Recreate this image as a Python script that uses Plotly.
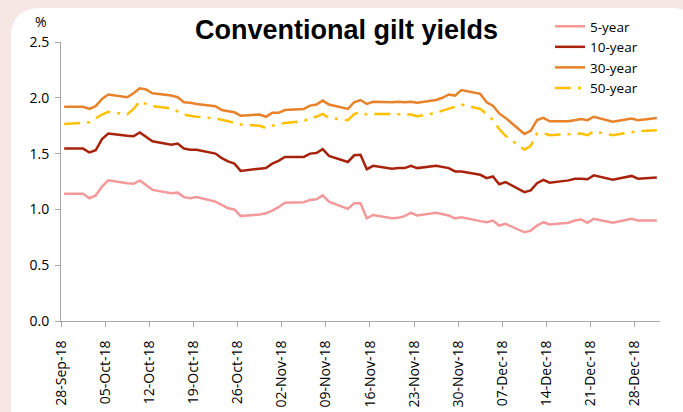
import pandas as pd
import plotly.graph_objects as go

# ---- data ----
dates = [d for d in pd.bdate_range("2018-09-28", "2018-12-31")
         if d.strftime("%m-%d") not in ("12-25", "12-26")]

y_5 = [1.14, 1.14, 1.10, 1.125, 1.205, 1.26, 1.235, 1.23, 1.26, 1.22, 1.175,
       1.145, 1.15, 1.11, 1.10, 1.11, 1.07, 1.04, 1.01, 1.00, 0.94,
       0.955, 0.965, 0.99, 1.02, 1.06, 1.065, 1.085, 1.09, 1.125, 1.07,
       1.005, 1.055, 1.055, 0.92, 0.95, 0.92, 0.925, 0.94, 0.97, 0.945,
       0.97, 0.96, 0.945, 0.92, 0.93, 0.895, 0.885, 0.90, 0.855, 0.87,
       0.795, 0.81, 0.855, 0.885, 0.865, 0.88, 0.90, 0.91, 0.88, 0.915,
       0.88, 0.915, 0.90, 0.90]
y_10 = [1.545, 1.545, 1.51, 1.53, 1.63, 1.68, 1.66, 1.655, 1.69, 1.65, 1.61,
        1.58, 1.59, 1.545, 1.535, 1.535, 1.50, 1.46, 1.43, 1.41, 1.345,
        1.365, 1.37, 1.41, 1.435, 1.47, 1.47, 1.50, 1.505, 1.54, 1.48,
        1.425, 1.485, 1.49, 1.36, 1.39, 1.365, 1.37, 1.37, 1.39, 1.37,
        1.39, 1.38, 1.37, 1.34, 1.34, 1.31, 1.28, 1.295, 1.225, 1.245,
        1.155, 1.17, 1.235, 1.265, 1.24, 1.26, 1.275, 1.275, 1.27, 1.305,
        1.265, 1.30, 1.275, 1.285]
y_30 = [1.92, 1.92, 1.90, 1.925, 1.99, 2.03, 2.005, 2.04, 2.085, 2.075, 2.04,
        2.02, 2.005, 1.96, 1.955, 1.945, 1.925, 1.89, 1.88, 1.87, 1.84,
        1.85, 1.83, 1.865, 1.865, 1.89, 1.90, 1.93, 1.94, 1.975, 1.94,
        1.90, 1.96, 1.98, 1.945, 1.965, 1.96, 1.965, 1.96, 1.965, 1.955,
        1.98, 2.00, 2.03, 2.02, 2.07, 2.035, 1.96, 1.93, 1.86, 1.82,
        1.675, 1.705, 1.80, 1.82, 1.79, 1.79, 1.80, 1.81, 1.80, 1.83,
        1.785, 1.815, 1.80, 1.82]
y_50 = [1.765, 1.775, 1.78, 1.815, 1.85, 1.875, 1.85, 1.90, 1.97, 1.945, 1.925,
        1.905, 1.88, 1.85, 1.84, 1.83, 1.815, 1.805, 1.79, 1.775, 1.76,
        1.75, 1.73, 1.75, 1.765, 1.775, 1.79, 1.82, 1.83, 1.855, 1.82,
        1.80, 1.855, 1.875, 1.85, 1.855, 1.855, 1.855, 1.855, 1.85, 1.835,
        1.865, 1.885, 1.90, 1.92, 1.94, 1.90, 1.855, 1.80, 1.72, 1.66,
        1.535, 1.57, 1.68, 1.685, 1.665, 1.67, 1.675, 1.68, 1.665, 1.70,
        1.665, 1.695, 1.70, 1.71]

series_names = ["5-year", "10-year", "30-year", "50-year"]
tick_dates = pd.date_range("2018-09-28", "2018-12-28", freq="7D")

# ---- layout geometry ----
W, H = 683, 412
ML, MR, MT, MB = 61, 23, 42, 91
PW, PH = W - ML - MR, H - MT - MB
PINK = "#F6E7E5"


def px_x(px):
    return (px - ML) / PW


def px_y(py):
    return (H - MB - py) / PH


x_mid = [d + pd.Timedelta(hours=12) for d in dates]

styles = [
    dict(color="#F4999A", width=2.5),
    dict(color="#A8230C", width=2.5),
    dict(color="#E8822A", width=2.5),
    dict(color="#FFC000", width=2.5, dash="16px,7px,3px,7px"),
]

fig = go.Figure()
for name, ys, st in zip(series_names, [y_5, y_10, y_30, y_50], styles):
    fig.add_trace(go.Scatter(x=x_mid, y=ys, mode="lines", name=name,
                             line=st, hoverinfo="skip"))

# white rounded panel on pink background
x0, x1 = px_x(11), px_x(700)
y0, y1 = px_y(8), px_y(440)
rx, ry = 30 / PW, 30 / PH
path = (f"M {x0+rx},{y0} L {x1-rx},{y0} Q {x1},{y0} {x1},{y0-ry} "
        f"L {x1},{y1+ry} Q {x1},{y1} {x1-rx},{y1} L {x0+rx},{y1} "
        f"Q {x0},{y1} {x0},{y1+ry} L {x0},{y0-ry} Q {x0},{y0} {x0+rx},{y0} Z")

fig.update_layout(
    width=W, height=H,
    margin=dict(l=ML, r=MR, t=MT, b=MB, autoexpand=False),
    paper_bgcolor=PINK,
    plot_bgcolor="rgba(0,0,0,0)",
    font=dict(family="Open Sans, sans-serif", color="#000000"),
    shapes=[dict(type="path", path=path, xref="paper", yref="paper",
                 fillcolor="#FFFFFF", line=dict(width=0), layer="below")],
    showlegend=True,
    legend=dict(x=px_x(550), y=px_y(11), xanchor="left", yanchor="top",
                bgcolor="rgba(0,0,0,0)", font=dict(size=13.5),
                tracegroupgap=0, itemwidth=30),
    annotations=[
        dict(text="<b>Conventional gilt yields</b>", x=px_x(346), y=px_y(30),
             xref="paper", yref="paper", xanchor="center", yanchor="middle",
             showarrow=False,
             font=dict(family="Liberation Sans, Arial, sans-serif", size=27)),
        dict(text="%", x=px_x(41), y=px_y(22), xref="paper", yref="paper",
             xanchor="center", yanchor="middle", showarrow=False,
             font=dict(size=14)),
    ],
)

fig.update_xaxes(
    type="date",
    range=[pd.Timestamp("2018-09-28"), pd.Timestamp("2019-01-01")],
    tickvals=list(tick_dates),
    ticktext=[d.strftime("%d-%b-%y") for d in tick_dates],
    tickangle=-90, ticks="outside", ticklen=5, tickcolor="#A6A6A6",
    showline=True, linecolor="#A6A6A6", linewidth=1,
    showgrid=False, zeroline=False, automargin=False,
    tickfont=dict(size=14), ticklabelstandoff=8,
)
fig.update_yaxes(
    range=[0, 2.5], tickvals=[0, 0.5, 1.0, 1.5, 2.0, 2.5], tickformat=".1f",
    ticks="outside", ticklen=5, tickcolor="#A6A6A6",
    showline=True, linecolor="#A6A6A6", linewidth=1,
    showgrid=False, zeroline=False, tickfont=dict(size=14),
    ticklabelstandoff=3, automargin=False,
)

fig.write_html(
    "out.html",
    config={"displayModeBar": False},
    post_script=("document.body.style.margin='0';"
                 f"document.body.style.background='{PINK}';"
                 "document.documentElement.style.overflow='hidden';"),
)
